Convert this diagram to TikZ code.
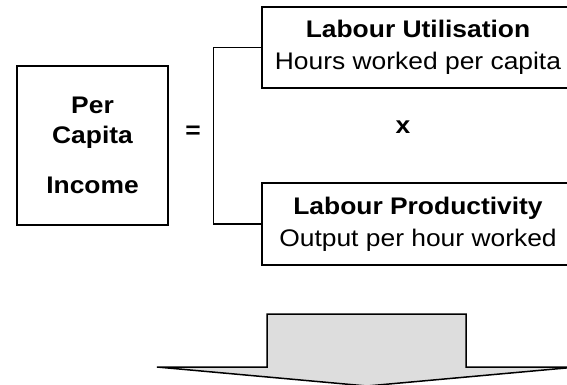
\documentclass[tikz,border=0pt]{standalone}
\usepackage{fontspec}
\setmainfont{Liberation Sans}[FakeStretch=1.1]
\definecolor{arrowfill}{HTML}{DDDDDD}
\begin{document}
\begin{tikzpicture}[
x=1pt,y=-1pt,
every node/.style={font=\fontsize{24}{32}\selectfont}
]

\tikzstyle{b} = [draw, line width=1.3pt, shape=rectangle, inner sep=0pt, align=center]
\tikzstyle{op} = [font=\fontsize{24}{32}\selectfont\bfseries]

\useasboundingbox (0,0) rectangle (567,385);
\clip (0,0) rectangle (567,385);

\node[b, minimum width=151pt, minimum height=159pt, font=\fontsize{24}{30}\selectfont\bfseries]
  (pci) at (92.5,145.5) {Per\\Capita\\[20pt]Income};
\node[op] (eq) at (193,132) {=};

\node[b, minimum width=312pt, minimum height=81pt] (util) at (418,47.5)
  {\textbf{Labour Utilisation}\\Hours worked per capita};
\node[op] (times) at (403,127) {x};
\node[b, minimum width=312pt, minimum height=82pt] (prod) at (418,224)
  {\textbf{Labour Productivity}\\Output per hour worked};

% bracket
\draw[line width=1.3pt] (util.west) -- ++(-48,0) |- (prod.west);

% big arrow
\draw[line width=1.5pt, fill=arrowfill]
  (267,314) -- (466,314) -- (466,367) -- (577,367) -- (367,386)
  -- (157,367) -- (267,367) -- cycle;
\end{tikzpicture}
\end{document}
